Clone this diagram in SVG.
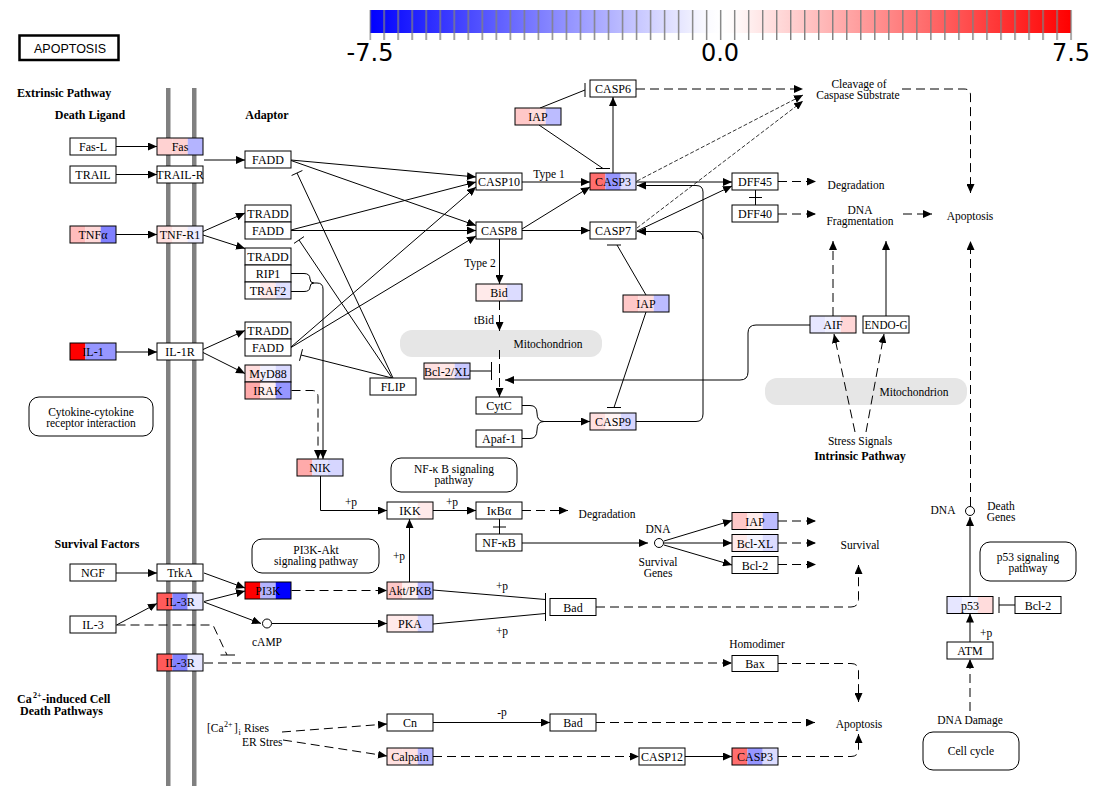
<svg xmlns="http://www.w3.org/2000/svg" width="1096" height="786" viewBox="0 0 1096 786">
<style>
.o{fill:none;stroke:#000;stroke-width:1}
.w{fill:#fff;stroke:#000;stroke-width:1}
.t{font-family:"Liberation Serif",serif;font-size:12px;text-anchor:middle;fill:#000}
.l{font-family:"Liberation Serif",serif;font-size:11.5px;text-anchor:middle;fill:#000}
.st{text-anchor:start}
.s{font-family:"Liberation Serif",serif;font-size:8px;fill:#000}
.b{font-family:"Liberation Serif",serif;font-size:12px;font-weight:bold;fill:#000}
.c{fill:none;stroke:#000;stroke-width:1}
.d{stroke-dasharray:9 5}
.f{stroke-dasharray:4 2;stroke-width:0.8}
.pw{fill:#fff;stroke:#000;stroke-width:1}
.mito{fill:#e6e6e6}
.mem{fill:#808080}
.cb{font-family:"DejaVu Sans",sans-serif;font-size:24px;text-anchor:middle;fill:#000}
</style>
<defs>
<marker id="ar" markerUnits="userSpaceOnUse" markerWidth="9" markerHeight="8" refX="9" refY="4" orient="auto"><path d="M0,0 L9,4 L0,8 z" fill="#000"/></marker>
<linearGradient id="grad" x1="0" y1="0" x2="1" y2="0"><stop offset="0" stop-color="#0000ff"/><stop offset="0.48" stop-color="#fafaff"/><stop offset="0.5" stop-color="#ffffff"/><stop offset="0.52" stop-color="#fffafa"/><stop offset="1" stop-color="#ff0000"/></linearGradient>
<pattern id="tk" patternUnits="userSpaceOnUse" x="369.4" y="0" width="14.02" height="60"><rect x="0" y="0" width="1.4" height="60" fill="#808080"/></pattern>
</defs>
<rect width="1096" height="786" fill="#fff"/>

<g id="colorbar">
<rect x="370" y="10" width="701" height="23" fill="url(#grad)"/>
<rect x="369.4" y="10" width="703" height="30" fill="url(#tk)"/>
<text class="cb" x="370" y="61">-7.5</text>
<text class="cb" x="720" y="61">0.0</text>
<text class="cb" x="1071" y="61">7.5</text>
</g>

<g id="title"><rect x="19.5" y="35.5" width="99" height="24.5" fill="#fff" stroke="#000" stroke-width="2.5"/><text x="70" y="53" font-family="Liberation Sans, sans-serif" font-size="12.5" text-anchor="middle">APOPTOSIS</text></g>

<g id="membrane"><rect class="mem" x="166" y="88" width="4.5" height="698"/><rect class="mem" x="192" y="88" width="4.5" height="698"/></g>
<g id="mito"><rect class="mito" x="400" y="330" width="202" height="27" rx="12"/><text class="l" x="548" y="348">Mitochondrion</text><rect class="mito" x="765" y="378" width="202" height="27" rx="12"/><text class="l" x="914" y="396">Mitochondrion</text></g>

<g id="labels">
<text class="b" x="17" y="97">Extrinsic Pathway</text>
<text class="b" x="90" y="119" text-anchor="middle">Death Ligand</text>
<text class="b" x="267" y="119" text-anchor="middle">Adaptor</text>
<text class="b" x="97" y="548" text-anchor="middle">Survival Factors</text>
<text class="b" x="17" y="703">Ca</text>
<text class="s" x="33" y="698" font-weight="bold">2+</text>
<text class="b" x="42" y="703">-induced Cell</text>
<text class="b" x="20" y="715">Death Pathways</text>
<text class="l st" x="207" y="732">[Ca</text>
<text class="s" x="224" y="727">2+</text>
<text class="l st" x="234" y="732">]</text>
<text class="s" x="238.5" y="735">i</text>
<text class="l st" x="244" y="732">Rises</text>
<text class="l st" x="242" y="746">ER Stres</text>
<text class="l" x="549" y="178">Type 1</text>
<text class="l" x="480" y="267">Type 2</text>
<text class="l" x="484" y="324">tBid</text>
<text class="l" x="859" y="88">Cleavage of</text>
<text class="l" x="858" y="99">Caspase Substrate</text>
<text class="l" x="856" y="189">Degradation</text>
<text class="l" x="860" y="214">DNA</text>
<text class="l" x="860" y="225">Fragmentation</text>
<text class="l" x="970" y="220">Apoptosis</text>
<text class="l" x="860" y="445">Stress Signals</text>
<text class="b" x="860" y="460" text-anchor="middle">Intrinsic Pathway</text>
<text class="l" x="943" y="514">DNA</text>
<text class="l" x="1001" y="510">Death</text>
<text class="l" x="1001" y="521">Genes</text>
<text class="l st" x="980" y="637">+p</text>
<text class="l" x="970" y="724">DNA Damage</text>
<text class="l" x="860" y="549">Survival</text>
<text class="l" x="757" y="648">Homodimer</text>
<text class="l" x="859" y="728">Apoptosis</text>
<text class="l" x="502" y="716">-p</text>
<text class="l" x="502" y="590">+p</text>
<text class="l" x="502" y="635">+p</text>
<text class="l" x="399" y="560">+p</text>
<text class="l" x="351" y="506">+p</text>
<text class="l" x="452" y="506">+p</text>
<text class="l" x="607" y="518">Degradation</text>
<text class="l" x="658" y="533">DNA</text>
<text class="l" x="658" y="566">Survival</text>
<text class="l" x="658" y="577">Genes</text>
<text class="l" x="267" y="646">cAMP</text>
</g>

<g id="pathways">
<g id="p-cytokine"><rect class="pw" x="29" y="397" width="124" height="39" rx="10"/><text class="l" x="91" y="416">Cytokine-cytokine</text><text class="l" x="91" y="427">receptor interaction</text></g>
<g id="p-nfkb"><rect class="pw" x="391" y="458" width="126" height="34" rx="10"/><text class="l" x="454" y="473">NF-κ B signaling</text><text class="l" x="454" y="484">pathway</text></g>
<g id="p-pi3k"><rect class="pw" x="252" y="539" width="127" height="34" rx="10"/><text class="l" x="316" y="554">PI3K-Akt</text><text class="l" x="316" y="565">signaling pathway</text></g>
<g id="p-p53"><rect class="pw" x="980" y="542" width="96" height="39" rx="10"/><text class="l" x="1028" y="561">p53 signaling</text><text class="l" x="1028" y="572">pathway</text></g>
<g id="p-cellcycle"><rect class="pw" x="923" y="732" width="96" height="38" rx="10"/><text class="l" x="971" y="755">Cell cycle</text></g>
</g>

<g id="compounds">
<circle class="w" cx="659" cy="543" r="4.5"/>
<circle class="w" cx="267" cy="623.5" r="4.5"/>
<circle class="w" cx="970" cy="511" r="4.5"/>
</g>

<g id="edges">
<path class="c" marker-end="url(#ar)" d="M116,146.5 H157"/>
<path class="c" marker-end="url(#ar)" d="M116,174.5 H157"/>
<path class="c" marker-end="url(#ar)" d="M116,234.5 H157"/>
<path class="c" marker-end="url(#ar)" d="M204,160 H245"/>
<path class="c" marker-end="url(#ar)" d="M203,231.5 L245,213"/>
<path class="c" marker-end="url(#ar)" d="M203,235 L245,248.5"/>
<path class="c" marker-end="url(#ar)" d="M116,352 H157"/>
<path class="c" marker-end="url(#ar)" d="M203,349.5 L245,330.5"/>
<path class="c" marker-end="url(#ar)" d="M203,352.5 L245,373.5"/>
<path class="c" marker-end="url(#ar)" d="M291,160 L476,177"/>
<path class="c" marker-end="url(#ar)" d="M291,160.5 L476,225.5"/>
<path class="c" marker-end="url(#ar)" d="M291,230 L476,182"/>
<path class="c" marker-end="url(#ar)" d="M291,230.5 H476"/>
<path class="c" marker-end="url(#ar)" d="M291,347 L476,187"/>
<path class="c" marker-end="url(#ar)" d="M291,347.5 L476,236"/>
<path class="c" d="M393,378 L297,173 M291.6,175.5 L302.4,170.5"/>
<path class="c" d="M392,378 L299,240 M294,243.4 L304,236.6"/>
<path class="c" d="M392,378 L301,355 M299.5,360.8 L302.5,349.2"/>
<path class="c" d="M291,273.5 H304 Q310,273.5 310,279 Q310,283 314,283 Q310,283 310,287 Q310,291.5 304,291.5 H291"/>
<path class="c" marker-end="url(#ar)" d="M314,283 H317 Q323,283 323,289 V459"/>
<path class="c d" marker-end="url(#ar)" d="M291.5,390.5 H312 Q318,390.5 318,397 V459"/>
<path class="c" marker-end="url(#ar)" d="M522,182 H590"/>
<path class="c" marker-end="url(#ar)" d="M522,229 L590,187"/>
<path class="c" marker-end="url(#ar)" d="M522,230.5 H590"/>
<path class="c" marker-end="url(#ar)" d="M499.5,239 V284"/>
<path class="c" marker-end="url(#ar)" d="M613,173 V97"/>
<path class="c" d="M540,108 L585,90 M585,83 V97"/>
<path class="c" d="M539,125 L603,168.5 M596,168.5 H610"/>
<path class="c" d="M646,295 L617,245 M607,245 H621"/>
<path class="c" marker-end="url(#ar)" d="M636,182 H732"/>
<path class="c" marker-end="url(#ar)" d="M637,231 L732,186"/>
<path class="c d" marker-end="url(#ar)" d="M636,89 H803"/>
<path class="c f" marker-end="url(#ar)" d="M637,181 L803,95"/>
<path class="c f" marker-end="url(#ar)" d="M637,228 L803,101"/>
<path class="c d" marker-end="url(#ar)" d="M902,89 H964 Q970.5,89 970.5,95 V193"/>
<path class="c d" marker-end="url(#ar)" d="M778,181.5 H816"/>
<path class="c d" marker-end="url(#ar)" d="M778,214 H816"/>
<path class="c d" marker-end="url(#ar)" d="M903,214 H932"/>
<path class="c" d="M755.5,190 V205 M749,197.5 H762"/>
<path class="c d" marker-end="url(#ar)" d="M833,316 V241"/>
<path class="c" marker-end="url(#ar)" d="M886,316 V241"/>
<path class="c d" marker-end="url(#ar)" d="M970.5,506 V241"/>
<path class="c" marker-end="url(#ar)" d="M810,325 H756 Q748,325 748,333 V372 Q748,380 740,380 H505"/>
<path class="c" marker-end="url(#ar)" d="M636,421.5 H696 Q703,421.5 703,414 V192 Q703,185.5 696,185.5 H637"/>
<path class="c" marker-end="url(#ar)" d="M703,239 Q703,231.5 696,231.5 H637"/>
<path class="c d" marker-end="url(#ar)" d="M855,432 L834,334"/>
<path class="c d" marker-end="url(#ar)" d="M866,432 L884,334"/>
<path class="c d" marker-end="url(#ar)" d="M499.5,301 V331"/>
<path class="c d" marker-end="url(#ar)" d="M499.5,350 V397"/>
<path class="c" d="M470,371 H491.5 M491.5,362 V380"/>
<path class="c" d="M522,405.5 H530 Q537,405.5 537,413 Q537,421.5 544,421.5 Q537,421.5 537,430 Q537,438.5 530,438.5 H522"/>
<path class="c" marker-end="url(#ar)" d="M544,421.5 H590"/>
<path class="c" d="M646,312 L614,407.5 M607,407.5 H621"/>
<path class="c" marker-end="url(#ar)" d="M320.5,476 V510.5 H387"/>
<path class="c" marker-end="url(#ar)" d="M433,510.5 H476"/>
<path class="c d" marker-end="url(#ar)" d="M522,510.5 H568"/>
<path class="c" d="M499.5,519 V534 M493,527 H506"/>
<path class="c" marker-end="url(#ar)" d="M522,543 H648"/>
<path class="c" marker-end="url(#ar)" d="M664,541 L732,520.5"/>
<path class="c" marker-end="url(#ar)" d="M664,543 H732"/>
<path class="c" marker-end="url(#ar)" d="M664,545 L732,565"/>
<path class="c d" marker-end="url(#ar)" d="M778,521 H816"/>
<path class="c d" marker-end="url(#ar)" d="M778,543 H816"/>
<path class="c d" marker-end="url(#ar)" d="M778,564.5 H816"/>
<path class="c d" marker-end="url(#ar)" d="M596,607 H851 Q858.5,607 858.5,599 V565"/>
<path class="c" marker-end="url(#ar)" d="M409.5,582 V519"/>
<path class="c" d="M433,590 L545.5,599.5 M433,624 L545.5,613.5 M545.5,593 V621"/>
<path class="c" marker-end="url(#ar)" d="M116,573 H157"/>
<path class="c" marker-end="url(#ar)" d="M204,573 L245,588"/>
<path class="c" marker-end="url(#ar)" d="M204,601.5 L245,591"/>
<path class="c" marker-end="url(#ar)" d="M204,602 L261,623.5"/>
<path class="c" marker-end="url(#ar)" d="M272,623.5 H387"/>
<path class="c d" marker-end="url(#ar)" d="M291.5,590.5 H387"/>
<path class="c" marker-end="url(#ar)" d="M116.5,625 L157,603.5"/>
<path class="c d" d="M116.5,625 H213 L227,655"/>
<path class="c" d="M220.5,655 H235"/>
<path class="c d" marker-end="url(#ar)" d="M204,663 H732"/>
<path class="c d" marker-end="url(#ar)" d="M778,663.5 H851 Q858.5,663.5 858.5,671 V702"/>
<path class="c d" marker-end="url(#ar)" d="M282,732 L387,724"/>
<path class="c d" marker-end="url(#ar)" d="M283,740 L387,756"/>
<path class="c" marker-end="url(#ar)" d="M433,722.5 H550"/>
<path class="c d" marker-end="url(#ar)" d="M596,722.5 H815"/>
<path class="c d" marker-end="url(#ar)" d="M433,756.5 H639"/>
<path class="c" marker-end="url(#ar)" d="M685,756.5 H732"/>
<path class="c d" marker-end="url(#ar)" d="M778,756.5 H851 Q858.5,756.5 858.5,749 V734"/>
<path class="c" d="M1015,605 H999 M999,597 V613"/>
<path class="c" marker-end="url(#ar)" d="M970,596.5 V517"/>
<path class="c" marker-end="url(#ar)" d="M970,642 V613.5"/>
<path class="c d" marker-end="url(#ar)" d="M970,711 V659"/>
</g>

<g id="nodes">
<g id="n-fasl"><rect class="w" x="70" y="138" width="46" height="17"/><text class="t" x="93" y="151">Fas-L</text></g>
<g id="n-fas"><rect x="157" y="138" width="15.4" height="17" fill="#ffd2d2"/><rect x="172.4" y="138" width="15.3" height="17" fill="#ffd2d2"/><rect x="187.7" y="138" width="15.3" height="17" fill="#b4b4ff"/><rect class="o" x="157" y="138" width="46" height="17"/><text class="t" x="180" y="151">Fas</text></g>
<g id="n-trail"><rect class="w" x="70" y="166" width="46" height="17"/><text class="t" x="93" y="179">TRAIL</text></g>
<g id="n-trailr"><rect class="w" x="157" y="166" width="46" height="17"/><text class="t" x="180" y="179">TRAIL-R</text></g>
<g id="n-fadd1"><rect class="w" x="245" y="151" width="46" height="17"/><text class="t" x="268" y="164">FADD</text></g>
<g id="n-tnfa"><rect x="70" y="226" width="15.4" height="17" fill="#ffbcbc"/><rect x="85.4" y="226" width="15.3" height="17" fill="#ffd8d8"/><rect x="100.7" y="226" width="15.3" height="17" fill="#8080ff"/><rect class="o" x="70" y="226" width="46" height="17"/><text class="t" x="93" y="239">TNFα</text></g>
<g id="n-tnfr1"><rect x="157" y="226" width="15.4" height="17" fill="#ffe0e0"/><rect x="172.4" y="226" width="15.3" height="17" fill="#fff4f4"/><rect x="187.7" y="226" width="15.3" height="17" fill="#ececff"/><rect class="o" x="157" y="226" width="46" height="17"/><text class="t" x="180" y="239">TNF-R1</text></g>
<g id="n-tradd-fadd2"><rect class="w" x="245" y="205" width="46" height="17"/><text class="t" x="268" y="218">TRADD</text><rect class="w" x="245" y="222" width="46" height="17"/><text class="t" x="268" y="235">FADD</text></g>
<g id="n-tradd-rip1-traf2"><rect class="w" x="245" y="248" width="46" height="17"/><text class="t" x="268" y="261">TRADD</text><rect class="w" x="245" y="265" width="46" height="17"/><text class="t" x="268" y="278">RIP1</text><rect x="245" y="282" width="15.4" height="17" fill="#fff"/><rect x="260.4" y="282" width="15.3" height="17" fill="#ffeaea"/><rect x="275.7" y="282" width="15.3" height="17" fill="#e0e0ff"/><rect class="o" x="245" y="282" width="46" height="17"/><text class="t" x="268" y="295">TRAF2</text></g>
<g id="n-il1"><rect x="70" y="343" width="15.4" height="17" fill="#ff0000"/><rect x="85.4" y="343" width="30.6" height="17" fill="#9696ff"/><rect class="o" x="70" y="343" width="46" height="17"/><text class="t" x="93" y="356">IL-1</text></g>
<g id="n-il1r"><rect class="w" x="157" y="343" width="46" height="17"/><text class="t" x="180" y="356">IL-1R</text></g>
<g id="n-tradd-fadd3"><rect class="w" x="245" y="322" width="46" height="17"/><text class="t" x="268" y="335">TRADD</text><rect class="w" x="245" y="339" width="46" height="17"/><text class="t" x="268" y="352">FADD</text></g>
<g id="n-myd88-irak"><rect x="245" y="365" width="15.4" height="17" fill="#ffdcdc"/><rect x="260.4" y="365" width="15.3" height="17" fill="#f0f0ff"/><rect x="275.7" y="365" width="15.3" height="17" fill="#d8d8ff"/><rect class="o" x="245" y="365" width="46" height="17"/><text class="t" x="268" y="378">MyD88</text><rect x="245" y="382" width="15.4" height="17" fill="#ffaaaa"/><rect x="260.4" y="382" width="15.3" height="17" fill="#fff0f0"/><rect x="275.7" y="382" width="15.3" height="17" fill="#9696ff"/><rect class="o" x="245" y="382" width="46" height="17"/><text class="t" x="268" y="395">IRAK</text></g>
<g id="n-flip"><rect class="w" x="370" y="378" width="46" height="17"/><text class="t" x="393" y="391">FLIP</text></g>
<g id="n-nik"><rect x="297" y="459" width="15.4" height="17" fill="#ffaaaa"/><rect x="312.4" y="459" width="15.3" height="17" fill="#e2e2ff"/><rect x="327.7" y="459" width="15.3" height="17" fill="#d6d6ff"/><rect class="o" x="297" y="459" width="46" height="17"/><text class="t" x="320" y="472">NIK</text></g>
<g id="n-casp6"><rect class="w" x="590" y="80" width="46" height="17"/><text class="t" x="613" y="93">CASP6</text></g>
<g id="n-iap1"><rect x="515" y="108" width="15.4" height="17" fill="#ffc8c8"/><rect x="530.4" y="108" width="15.3" height="17" fill="#ffdcdc"/><rect x="545.7" y="108" width="15.3" height="17" fill="#bcbcff"/><rect class="o" x="515" y="108" width="46" height="17"/><text class="t" x="538" y="121">IAP</text></g>
<g id="n-casp10"><rect class="w" x="476" y="173" width="46" height="17"/><text class="t" x="499" y="186">CASP10</text></g>
<g id="n-casp3"><rect x="590" y="173" width="15.4" height="17" fill="#ff6e6e"/><rect x="605.4" y="173" width="15.3" height="17" fill="#9696ff"/><rect x="620.7" y="173" width="15.3" height="17" fill="#dcdcff"/><rect class="o" x="590" y="173" width="46" height="17"/><text class="t" x="613" y="186">CASP3</text></g>
<g id="n-dff45"><rect class="w" x="732" y="173" width="46" height="17"/><text class="t" x="755" y="186">DFF45</text></g>
<g id="n-dff40"><rect class="w" x="732" y="205" width="46" height="17"/><text class="t" x="755" y="218">DFF40</text></g>
<g id="n-casp8"><rect class="w" x="476" y="222" width="46" height="17"/><text class="t" x="499" y="235">CASP8</text></g>
<g id="n-casp7"><rect class="w" x="590" y="222" width="46" height="17"/><text class="t" x="613" y="235">CASP7</text></g>
<g id="n-bid"><rect x="476" y="284" width="15.4" height="17" fill="#ffeaea"/><rect x="491.4" y="284" width="15.3" height="17" fill="#ffeaea"/><rect x="506.7" y="284" width="15.3" height="17" fill="#dcdcff"/><rect class="o" x="476" y="284" width="46" height="17"/><text class="t" x="499" y="297">Bid</text></g>
<g id="n-iap2"><rect x="623" y="295" width="15.4" height="17" fill="#ffc8c8"/><rect x="638.4" y="295" width="15.3" height="17" fill="#ffdcdc"/><rect x="653.7" y="295" width="15.3" height="17" fill="#bcbcff"/><rect class="o" x="623" y="295" width="46" height="17"/><text class="t" x="646" y="308">IAP</text></g>
<g id="n-bcl2xl"><rect x="424" y="363" width="15.4" height="16" fill="#ffe0e0"/><rect x="439.4" y="363" width="15.3" height="16" fill="#ffe6e6"/><rect x="454.7" y="363" width="15.3" height="16" fill="#c8c8ff"/><rect class="o" x="424" y="363" width="46" height="16"/><text class="t" x="447" y="375.5">Bcl-2/XL</text></g>
<g id="n-cytc"><rect class="w" x="476" y="397" width="46" height="17"/><text class="t" x="499" y="410">CytC</text></g>
<g id="n-apaf1"><rect class="w" x="476" y="430" width="46" height="17"/><text class="t" x="499" y="443">Apaf-1</text></g>
<g id="n-casp9"><rect x="590" y="413" width="15.4" height="17" fill="#ffe0e0"/><rect x="605.4" y="413" width="15.3" height="17" fill="#fff4f4"/><rect x="620.7" y="413" width="15.3" height="17" fill="#d6d6ff"/><rect class="o" x="590" y="413" width="46" height="17"/><text class="t" x="613" y="426">CASP9</text></g>
<g id="n-aif"><rect x="810" y="316" width="15.4" height="17" fill="#e6e6ff"/><rect x="825.4" y="316" width="15.3" height="17" fill="#f0f0ff"/><rect x="840.7" y="316" width="15.3" height="17" fill="#ffd6d6"/><rect class="o" x="810" y="316" width="46" height="17"/><text class="t" x="833" y="329">AIF</text></g>
<g id="n-endog"><rect class="w" x="863" y="316" width="46" height="17"/><text class="t" x="886" y="329" textLength="43" lengthAdjust="spacingAndGlyphs">ENDO-G</text></g>
<g id="n-ikk"><rect x="387" y="502" width="15.4" height="17" fill="#fff"/><rect x="402.4" y="502" width="15.3" height="17" fill="#fff"/><rect x="417.7" y="502" width="15.3" height="17" fill="#ffeaea"/><rect class="o" x="387" y="502" width="46" height="17"/><text class="t" x="410" y="515">IKK</text></g>
<g id="n-ikba"><rect class="w" x="476" y="502" width="46" height="17"/><text class="t" x="499" y="515">IκBα</text></g>
<g id="n-nfkb"><rect class="w" x="476" y="534" width="46" height="17"/><text class="t" x="499" y="547">NF-κB</text></g>
<g id="n-iap3"><rect x="732" y="512.5" width="15.4" height="17" fill="#ffc8c8"/><rect x="747.4" y="512.5" width="15.3" height="17" fill="#ffecec"/><rect x="762.7" y="512.5" width="15.3" height="17" fill="#bcbcff"/><rect class="o" x="732" y="512.5" width="46" height="17"/><text class="t" x="755" y="525.5">IAP</text></g>
<g id="n-bclxl"><rect x="732" y="534.5" width="15.4" height="17" fill="#ffeaea"/><rect x="747.4" y="534.5" width="15.3" height="17" fill="#f4f4ff"/><rect x="762.7" y="534.5" width="15.3" height="17" fill="#dcdcff"/><rect class="o" x="732" y="534.5" width="46" height="17"/><text class="t" x="755" y="547.5">Bcl-XL</text></g>
<g id="n-bcl2a"><rect class="w" x="732" y="556.5" width="46" height="17"/><text class="t" x="755" y="569.5">Bcl-2</text></g>
<g id="n-ngf"><rect class="w" x="70" y="564" width="46" height="17"/><text class="t" x="93" y="577">NGF</text></g>
<g id="n-trka"><rect class="w" x="157" y="564" width="46" height="17"/><text class="t" x="180" y="577">TrkA</text></g>
<g id="n-il3r1"><rect x="157" y="593" width="15.4" height="17" fill="#ff5a5a"/><rect x="172.4" y="593" width="15.3" height="17" fill="#8282ff"/><rect x="187.7" y="593" width="15.3" height="17" fill="#e6e6ff"/><rect class="o" x="157" y="593" width="46" height="17"/><text class="t" x="180" y="606">IL-3R</text></g>
<g id="n-il3"><rect class="w" x="70" y="616" width="46" height="17"/><text class="t" x="93" y="629">IL-3</text></g>
<g id="n-pi3k"><rect x="245" y="582" width="15.4" height="17" fill="#ff0000"/><rect x="260.4" y="582" width="15.3" height="17" fill="#b4b4ff"/><rect x="275.7" y="582" width="15.3" height="17" fill="#0000ff"/><rect class="o" x="245" y="582" width="46" height="17"/><text class="t" x="268" y="595">PI3K</text></g>
<g id="n-akt"><rect x="387" y="582" width="15.4" height="17" fill="#ffc8c8"/><rect x="402.4" y="582" width="15.3" height="17" fill="#fff0f0"/><rect x="417.7" y="582" width="15.3" height="17" fill="#b4b4ff"/><rect class="o" x="387" y="582" width="46" height="17"/><text class="t" x="410" y="595" textLength="43" lengthAdjust="spacingAndGlyphs">Akt/PKB</text></g>
<g id="n-pka"><rect x="387" y="615" width="15.4" height="17" fill="#ffeaea"/><rect x="402.4" y="615" width="15.3" height="17" fill="#ffeaea"/><rect x="417.7" y="615" width="15.3" height="17" fill="#d2d2ff"/><rect class="o" x="387" y="615" width="46" height="17"/><text class="t" x="410" y="628">PKA</text></g>
<g id="n-bad1"><rect class="w" x="550" y="598.5" width="46" height="17"/><text class="t" x="573" y="611.5">Bad</text></g>
<g id="n-il3r2"><rect x="157" y="654" width="15.4" height="17" fill="#ff5a5a"/><rect x="172.4" y="654" width="15.3" height="17" fill="#8282ff"/><rect x="187.7" y="654" width="15.3" height="17" fill="#e6e6ff"/><rect class="o" x="157" y="654" width="46" height="17"/><text class="t" x="180" y="667">IL-3R</text></g>
<g id="n-bax"><rect class="w" x="732" y="655.5" width="46" height="16"/><text class="t" x="755" y="668">Bax</text></g>
<g id="n-cn"><rect class="w" x="387" y="714" width="46" height="17"/><text class="t" x="410" y="727">Cn</text></g>
<g id="n-bad2"><rect class="w" x="550" y="714" width="46" height="17"/><text class="t" x="573" y="727">Bad</text></g>
<g id="n-calpain"><rect x="387" y="748" width="15.4" height="17" fill="#ffe0e0"/><rect x="402.4" y="748" width="15.3" height="17" fill="#ffe0e0"/><rect x="417.7" y="748" width="15.3" height="17" fill="#b4b4ff"/><rect class="o" x="387" y="748" width="46" height="17"/><text class="t" x="410" y="761">Calpain</text></g>
<g id="n-casp12"><rect class="w" x="639" y="748" width="46" height="17"/><text class="t" x="662" y="761">CASP12</text></g>
<g id="n-casp3b"><rect x="732" y="748" width="15.4" height="17" fill="#ff6e6e"/><rect x="747.4" y="748" width="15.3" height="17" fill="#9696ff"/><rect x="762.7" y="748" width="15.3" height="17" fill="#dcdcff"/><rect class="o" x="732" y="748" width="46" height="17"/><text class="t" x="755" y="761">CASP3</text></g>
<g id="n-p53"><rect x="947" y="596.5" width="15.4" height="17" fill="#e6e6ff"/><rect x="962.4" y="596.5" width="15.3" height="17" fill="#f4f4ff"/><rect x="977.7" y="596.5" width="15.3" height="17" fill="#ffdcdc"/><rect class="o" x="947" y="596.5" width="46" height="17"/><text class="t" x="970" y="609.5">p53</text></g>
<g id="n-bcl2b"><rect class="w" x="1015" y="596.5" width="46" height="17"/><text class="t" x="1038" y="609.5">Bcl-2</text></g>
<g id="n-atm"><rect class="w" x="947" y="642" width="46" height="17"/><text class="t" x="970" y="655">ATM</text></g>
</g>
</svg>
